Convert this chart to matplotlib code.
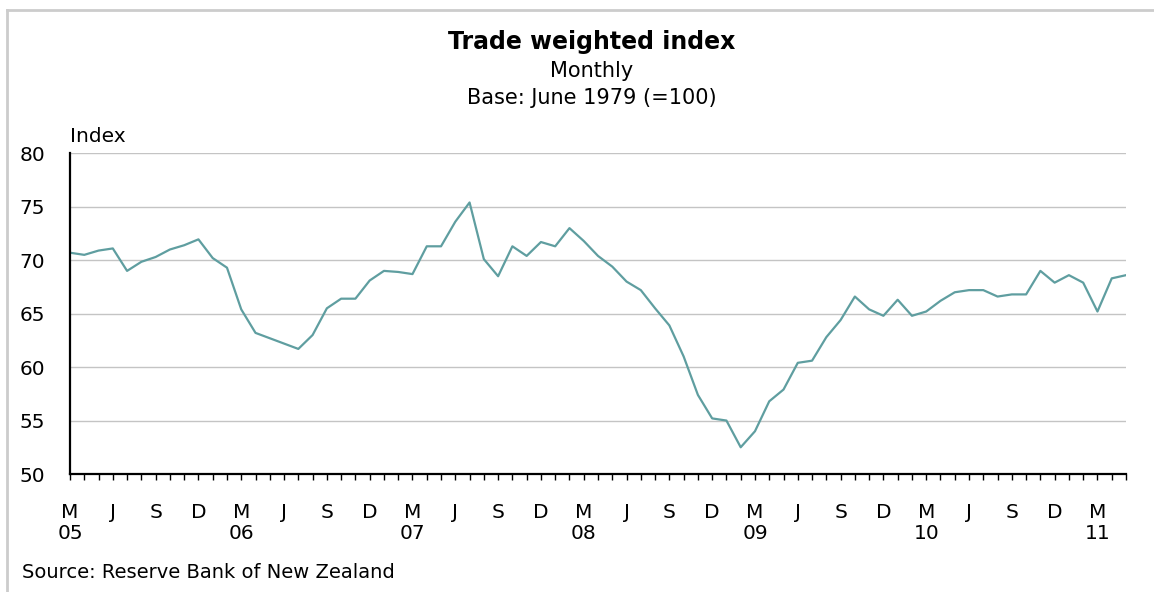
import numpy as np
import matplotlib
matplotlib.use("Agg")
import matplotlib.pyplot as plt
from matplotlib.lines import Line2D
from matplotlib.ticker import MultipleLocator, FixedLocator

plt.rcParams["font.family"] = ["DejaVu Sans"]

# Monthly TWI, March 2005 to May 2011
twi = [
    70.7, 70.5, 70.9, 71.1, 69.0, 69.85, 70.3, 71.0, 71.4, 71.95,   # Mar05-Dec05
    70.2, 69.3, 65.4, 63.2, 62.7, 62.2, 61.7, 63.0, 65.5, 66.4,     # Jan06-Oct06
    66.4, 68.1, 69.0, 68.9, 68.7, 71.3, 71.3, 73.6, 75.4, 70.1,     # Nov06-Aug07
    68.5, 71.3, 70.4, 71.7, 71.3, 73.0, 71.8, 70.4, 69.4, 68.0,     # Sep07-Jun08
    67.2, 65.5, 63.9, 61.0, 57.4, 55.2, 55.0, 52.5, 54.0, 56.8,     # Jul08-Apr09
    57.9, 60.4, 60.6, 62.8, 64.4, 66.6, 65.4, 64.8, 66.3, 64.8,     # May09-Feb10
    65.2, 66.2, 67.0, 67.2, 67.2, 66.6, 66.8, 66.8, 69.0, 67.9,     # Mar10-Dec10
    68.6, 67.9, 65.2, 68.3, 68.6,                                   # Jan11-May11
]
month_letters = ["M", "J", "S", "D"]
years = ["05", "06", "07", "08", "09", "10", "11"]
y_ticks = [50, 55, 60, 65, 70, 75, 80]

x = np.arange(len(twi))

fig = plt.figure(figsize=(11.54, 5.92), dpi=100)
ax = fig.add_axes([70 / 1154, 1 - 474 / 592, (1126 - 70) / 1154, (474 - 153.3) / 592])

ax.plot(x, twi, color="#5f9ea0", linewidth=1.6)

ax.set_xlim(0, len(twi) - 1)
ax.set_ylim(50, 80)

# gridlines
ax.set_yticks(y_ticks)
ax.set_yticklabels([str(v) for v in y_ticks], fontsize=14.5)
ax.grid(axis="y", color="#c4c4c4", linewidth=1.0)
ax.set_axisbelow(True)

# x ticks: every month, labels every quarter
labels = []
for k in range(0, len(twi), 3):
    lab = month_letters[(k // 3) % 4]
    if lab == "M":
        lab = "M\n" + years[k // 12]
    labels.append(lab)
ax.xaxis.set_major_locator(FixedLocator(list(range(0, len(twi), 3))))
ax.set_xticklabels(labels, fontsize=14.5, linespacing=1.15)
ax.xaxis.set_minor_locator(MultipleLocator(1))
ax.tick_params(axis="x", which="both", direction="out", length=4, width=1, color="black", pad=17)
ax.tick_params(axis="y", length=0, pad=18)

for s in ["top", "right"]:
    ax.spines[s].set_visible(False)
ax.spines["left"].set_linewidth(1.6)
ax.spines["bottom"].set_linewidth(1.6)

# titles and notes
fig.text(592 / 1154, 1 - 42 / 592, "Trade weighted index", ha="center", va="center",
         fontsize=17, fontweight="bold")
fig.text(592 / 1154, 1 - 71 / 592, "Monthly", ha="center", va="center", fontsize=15)
fig.text(592 / 1154, 1 - 98 / 592, "Base: June 1979 (=100)", ha="center", va="center", fontsize=15)
fig.text(70 / 1154, 1 - 137 / 592, "Index", ha="left", va="center", fontsize=14.5)
fig.text(22 / 1154, 1 - 572 / 592, "Source: Reserve Bank of New Zealand", ha="left", va="center",
         fontsize=14)

# light frame on top and left
fig.add_artist(Line2D([7 / 1154, 1], [1 - 10 / 592, 1 - 10 / 592], color="#cccccc", linewidth=2))
fig.add_artist(Line2D([7 / 1154, 7 / 1154], [0, 1 - 10 / 592], color="#cccccc", linewidth=2))

fig.savefig("out.png", dpi=100)
